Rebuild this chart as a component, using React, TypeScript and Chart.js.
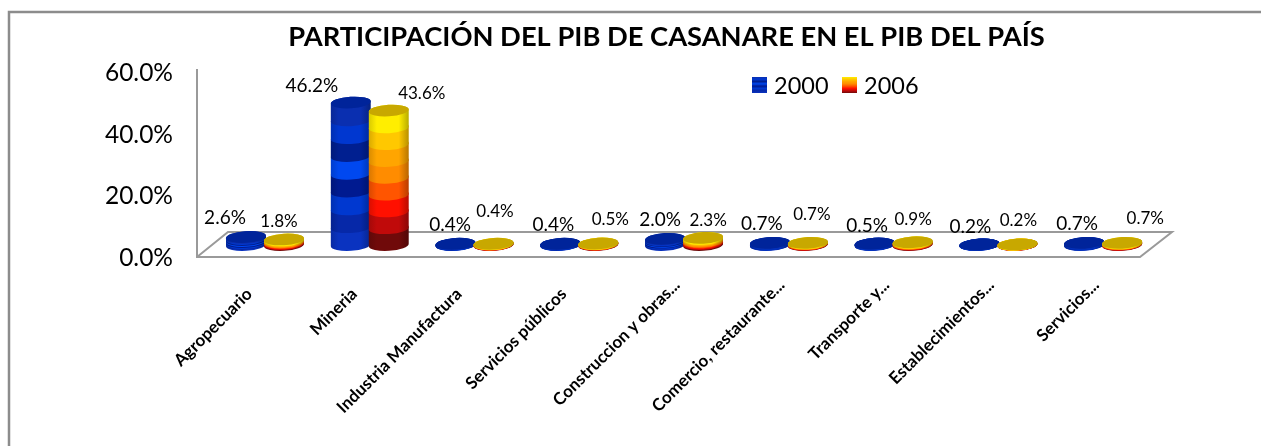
import React, { useEffect, useRef } from "react";
import { Chart, registerables } from "chart.js";

Chart.register(...registerables);

const categories = [
  "Agropecuario",
  "Mineria",
  "Industria Manufactura",
  "Servicios públicos",
  "Construccion y obras...",
  "Comercio, restaurante...",
  "Transporte y...",
  "Establecimientos...",
  "Servicios...",
];
const values2000 = [2.6, 46.2, 0.4, 0.4, 2.0, 0.7, 0.5, 0.2, 0.7];
const values2006 = [1.8, 43.6, 0.4, 0.5, 2.3, 0.7, 0.9, 0.2, 0.7];
const yTicks = [0, 20, 40, 60];
const title = "PARTICIPACIÓN DEL PIB DE CASANARE EN EL PIB DEL PAÍS";
const FONT = "Lato, 'Open Sans', sans-serif";

// bottom to top
const bands2000 = ["#0a33c0", "#0628a8", "#0038d0", "#001a90", "#0048f0", "#001f90", "#0037d0", "#0a2fb0"];
const bands2006 = ["#700a0a", "#c00a0a", "#ff1000", "#ff5500", "#ff8c00", "#ffa500", "#ffc800", "#ffee00"];
const caps = ["#00249a", "#c8a800"];

// label offsets relative to the top of each cylinder (dx, dy), by dataset
const labelOffsets2000 = [[-21, -19], [-39, -16.5], [-5.5, -19], [-7, -19], [-5, -19], [-8, -19], [-7.5, -18], [-9, -18], [-7, -19]];
const labelOffsets2006 = [[-5, -18], [33, -17.5], [1.5, -32], [12, -24], [5, -17], [4, -28], [0.5, -23], [1, -24], [23, -24]];

const DX = 15.6;
const DY = -12;
const RY = 5.8;
const TILT = -0.06;

function hex(c: string, k: number) {
  const n = parseInt(c.slice(1), 16);
  const f = (v: number) => Math.round(Math.max(0, Math.min(255, v * k)));
  return `rgb(${f((n >> 16) & 255)},${f((n >> 8) & 255)},${f(n & 255)})`;
}

function slab(ctx: CanvasRenderingContext2D, cx: number, rx: number, top: number, bottom: number, color: string) {
  const g = ctx.createLinearGradient(cx - rx, 0, cx + rx, 0);
  g.addColorStop(0, hex(color, 0.85));
  g.addColorStop(0.2, hex(color, 1));
  g.addColorStop(0.75, hex(color, 1));
  g.addColorStop(1, hex(color, 0.72));
  ctx.fillStyle = g;
  ctx.beginPath();
  ctx.ellipse(cx, bottom, rx, RY, TILT, 0, Math.PI);
  ctx.ellipse(cx, top, rx, RY, TILT, Math.PI, Math.PI * 2);
  ctx.closePath();
  ctx.fill();
}

function cylinder(ctx: CanvasRenderingContext2D, cx: number, rx: number, top: number, bottom: number, bands: string[], cap: string) {
  const h = bottom - top;
  bands.forEach((color, i) => {
    slab(ctx, cx, rx, bottom - (h * (i + 1)) / bands.length, bottom - (h * i) / bands.length, color);
  });
  ctx.fillStyle = cap;
  ctx.beginPath();
  ctx.ellipse(cx, top, rx, RY, TILT, 0, Math.PI * 2);
  ctx.fill();
}

const scene = {
  id: "scene",
  beforeDraw(chart: any) {
    // truncated category labels sit further along their slant in the reference
    chart.scales.x.getLabelItems().forEach((item: any) => {
      if (String(item.label).endsWith("...") && !item.shifted) {
        item.options.translation[0] += 8.5;
        item.options.translation[1] -= 9;
        item.shifted = true;
      }
    });
  },
  beforeDatasetsDraw(chart: any) {
    const { ctx, chartArea: a } = chart;
    const y0 = chart.scales.y.getPixelForValue(0);
    ctx.save();
    ctx.strokeStyle = "#8c8c8c";
    ctx.lineWidth = 2.5;
    ctx.beginPath();
    ctx.moveTo(9, 446);
    ctx.lineTo(9, 12);
    ctx.lineTo(1261, 12);
    ctx.stroke();
    ctx.strokeStyle = "#9a9a9a";
    ctx.lineWidth = 2;
    ctx.beginPath();
    ctx.moveTo(a.left, a.top - 3);
    ctx.lineTo(a.left, y0);
    ctx.lineTo(a.right, y0);
    ctx.lineTo(a.right + 32, y0 - 25);
    ctx.lineTo(a.left + 31, y0 - 25);
    ctx.lineTo(a.left, y0);
    ctx.stroke();
    ctx.fillStyle = "#000";
    ctx.textAlign = "center";
    ctx.textBaseline = "middle";
    ctx.font = `bold 27.3px ${FONT}`;
    ctx.fillText(title, 666.5, 37);
    ctx.restore();
  },
  afterDatasetsDraw(chart: any) {
    const { ctx } = chart;
    const sets = [
      { m: chart.getDatasetMeta(0), b: bands2000, c: caps[0], o: labelOffsets2000, s: 19, v: values2000 },
      { m: chart.getDatasetMeta(1), b: bands2006, c: caps[1], o: labelOffsets2006, s: 17, v: values2006 },
    ];
    ctx.save();
    categories.forEach((_, i) => {
      sets.forEach((set) => {
        const el = set.m.data[i];
        const rx = el.width / 2 + 1;
        cylinder(ctx, el.x + DX, rx, el.y + DY, el.base + DY, set.b, set.c);
      });
    });
    ctx.fillStyle = "#000";
    ctx.textAlign = "center";
    ctx.textBaseline = "middle";
    categories.forEach((_, i) => {
      sets.forEach((set) => {
        const el = set.m.data[i];
        ctx.font = `${set.s}px ${FONT}`;
        ctx.fillText(`${set.v[i].toFixed(1)}%`, el.x + DX + set.o[i][0], el.y + DY + set.o[i][1]);
      });
    });
    // legend
    const legend = [
      { x: 752, label: "2000", stops: [...bands2000].reverse() },
      { x: 842, label: "2006", stops: [...bands2006].reverse() },
    ];
    legend.forEach((l) => {
      const g = ctx.createLinearGradient(0, 77, 0, 93);
      l.stops.forEach((s, k) => g.addColorStop(k / (l.stops.length - 1), s));
      ctx.fillStyle = g;
      ctx.fillRect(l.x, 77, 15, 16);
      ctx.fillStyle = "#000";
      ctx.font = `23.5px ${FONT}`;
      ctx.textAlign = "left";
      ctx.fillText(l.label, l.x + 22, 86);
    });
    ctx.restore();
  },
};

export default function App() {
  const ref = useRef<HTMLCanvasElement>(null);
  useEffect(() => {
    document.body.style.margin = "0";
    const chart = new Chart(ref.current!, {
      type: "bar",
      data: {
        labels: categories,
        datasets: [
          { label: "2000", data: values2000, backgroundColor: "rgba(0,0,0,0)" },
          { label: "2006", data: values2006, backgroundColor: "rgba(0,0,0,0)" },
        ],
      },
      options: {
        responsive: false,
        animation: false,
        events: [],
        layout: { padding: { top: 72, right: 121, left: 0, bottom: 0 } },
        categoryPercentage: 0.725,
        barPercentage: 1,
        plugins: {
          legend: { display: false },
          tooltip: { enabled: false },
          title: { display: false },
        },
        scales: {
          x: {
            grid: { display: false },
            border: { display: false },
            afterFit: (s: any) => { s.height = 189; },
            ticks: {
              autoSkip: false,
              minRotation: 45,
              maxRotation: 45,
              padding: 19,
              color: "#000",
              font: { family: FONT, size: 17, weight: "bold" },
            },
          },
          y: {
            min: 0,
            max: 60,
            afterFit: (s: any) => { s.width = 197; },
            afterBuildTicks: (s: any) => { s.ticks = yTicks.map((value) => ({ value })); },
            grid: { display: false },
            border: { display: false },
            ticks: {
              padding: 16,
              labelOffset: 1,
              color: "#000",
              font: { family: FONT, size: 24.5 },
              callback: (v: any) => `${Number(v).toFixed(1)}%`,
            },
          },
        },
      } as any,
      plugins: [scene],
    });
    return () => chart.destroy();
  }, []);
  return <canvas ref={ref} width={1261} height={446} style={{ display: "block" }} />;
}
